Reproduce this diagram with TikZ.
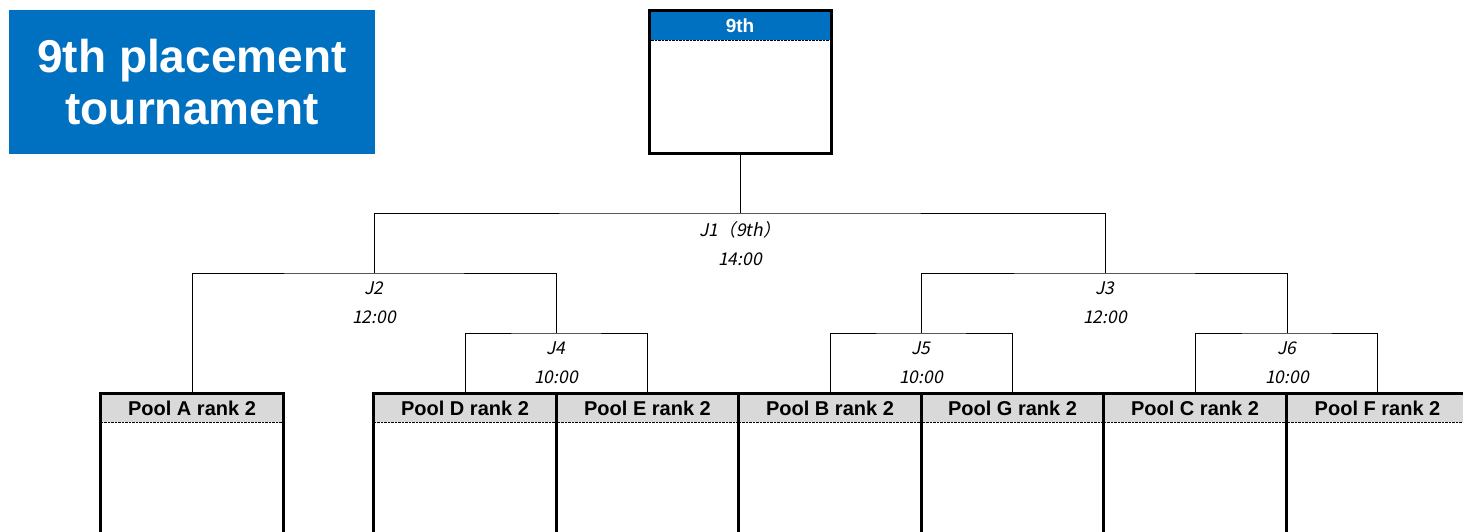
\documentclass[tikz,border=0pt]{standalone}
\usepackage{fontspec}
\setmainfont{Liberation Sans}
\newfontfamily\jpfont[FakeSlant=0.2]{Noto Sans CJK JP}
\usetikzlibrary{positioning}
\definecolor{xlblue}{HTML}{0070C0}
\definecolor{headgray}{HTML}{D9D9D9}

\begin{document}
\begin{tikzpicture}[x=1pt,y=-1pt,outer sep=0pt,inner sep=0pt,
  box/.style={draw,line width=3pt,minimum width=182.5pt,minimum height=170pt,anchor=north},
  head/.style={fill=headgray,minimum width=179.5pt,minimum height=27pt,anchor=north,
    font=\bfseries\fontsize{20}{24}\selectfont},
  match/.style={anchor=north,align=center,inner ysep=9pt,font=\jpfont\fontsize{17.5}{29}\selectfont},
  title/.style={fill=xlblue,text=white,align=center,minimum width=366pt,minimum height=144pt,
    font=\bfseries\fontsize{46}{52}\selectfont}]

   \path[use as bounding box,clip] (0,0) rectangle (1463,532);

   \node[title] (title) at (192,82) {9th placement\\tournament};

   \node[head,fill=xlblue,text=white,minimum width=179pt,minimum height=28pt,
     font=\bfseries\fontsize{19}{23}\selectfont] (h9) at (740,12) {9th};
   \node[box,minimum width=182pt,minimum height=143pt] (ninth) at (740,10.5) {};
   \draw[densely dotted] (h9.south west) -- (h9.south east);

   \foreach \n/\x in {A/192,D/465,E/647.5,B/830,G/1012.5,C/1195,F/1377.5}{
     \node[head] (h\n) at (\x,395) {Pool \n{} rank 2};
     \node[box] (p\n) at (\x,393.5) {};
     \draw[densely dotted] (h\n.south west) -- (h\n.south east);
   }

   \node[match] (j1) at (740,213)   {J1（9th）\\14:00};
   \node[match] (j2) at (374,273)   {J2\\12:00};
   \node[match] (j3) at (1105,273)  {J3\\12:00};
   \node[match] (j4) at (556,333)   {J4\\10:00};
   \node[match] (j5) at (921,333)   {J5\\10:00};
   \node[match] (j6) at (1287,333)  {J6\\10:00};

   \draw (ninth.south) -- (j1.north);
   \draw (j2.north) |- (j1.north) -| (j3.north);
   \draw (pA.north) |- (j2.north) -| (j4.north);
   \draw (j5.north) |- (j3.north) -| (j6.north);
   \draw (pD.north) |- (j4.north) -| (pE.north);
   \draw (pB.north) |- (j5.north) -| (pG.north);
   \draw (pC.north) |- (j6.north) -| (pF.north);

\end{tikzpicture}
\end{document}
